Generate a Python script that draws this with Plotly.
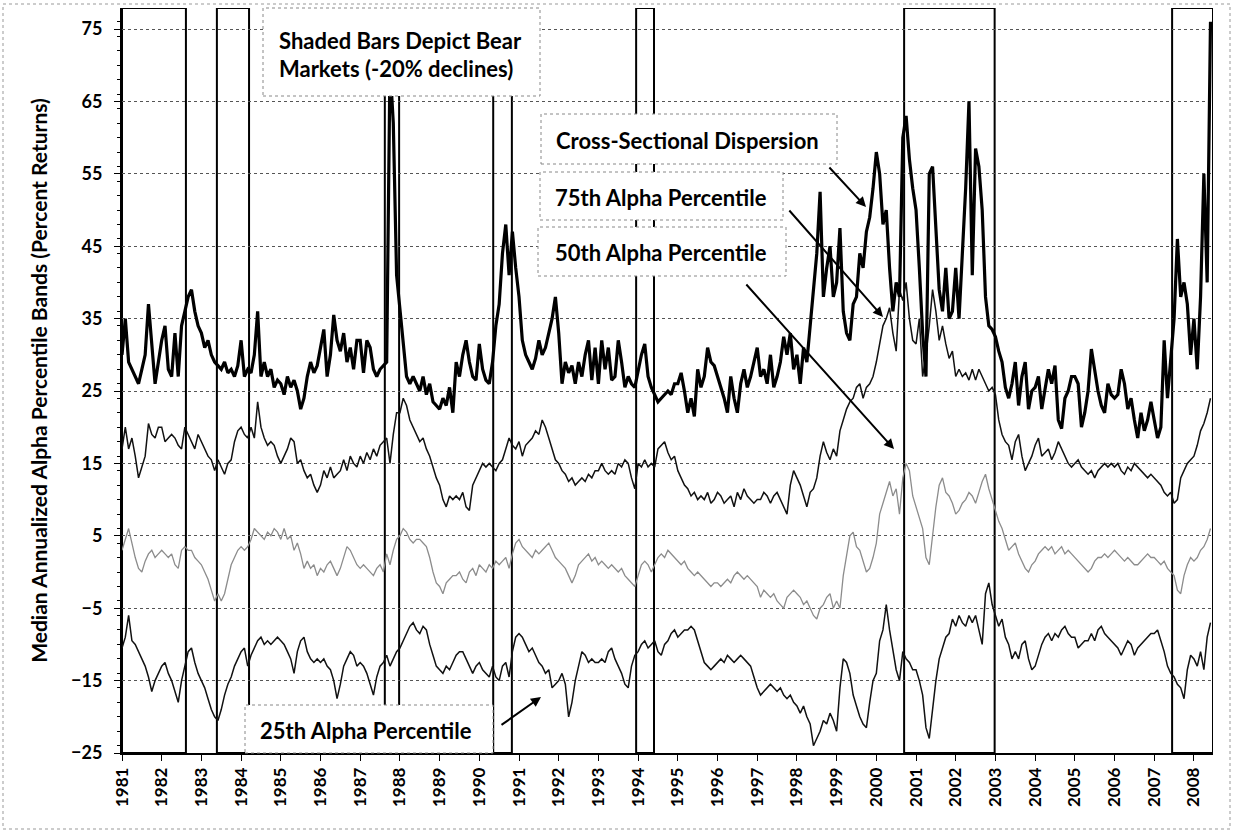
import plotly.graph_objects as go

start_year = 1981
year_labels = [str(y) for y in range(1981, 2009)]

dispersion = [
    30, 35, 29, 28, 27, 26, 28, 30, 37, 31, 26, 29,
    32, 34, 28, 27, 33, 27, 34, 36, 38, 39, 36, 34,
    33, 31, 32, 30, 29, 28.5, 28, 29, 27.5, 28, 27, 28.5,
    32, 27, 28, 27.5, 30, 36, 27, 29, 27, 28, 25.5, 26.5,
    26, 24.5, 27, 25.5, 26.5, 25, 22.5, 24, 27, 29, 27.5, 28.5,
    31, 33.5, 27, 30, 35.5, 32, 30.5, 33, 29, 31, 28, 32,
    32, 27.5, 32, 31, 28, 27, 28, 28.5, 29, 70, 62, 41,
    36, 31, 27, 26, 27, 26, 25, 27, 24.5, 26, 23.5, 23,
    22.5, 24, 23, 25.5, 22, 29, 27, 30, 32, 29, 27, 26.5,
    31.5, 28, 26.5, 26, 29, 34, 37, 44, 48, 41, 47, 42,
    38, 32, 30, 29, 28, 29.5, 32, 30, 31, 33, 35, 38,
    33, 26, 29, 27.5, 28.5, 26, 29, 27, 30, 32, 26.5, 31,
    26, 32, 28, 31, 26.5, 27, 32, 29, 25.5, 27, 26, 25.5,
    28, 30, 31.5, 27, 25.5, 24.5, 23.5, 24, 24.5, 25, 24.5, 26,
    26, 27.5, 25, 22, 24, 21.5, 28, 25.5, 27, 31, 29, 28.5,
    27, 25.5, 24, 22, 27, 24, 22, 26, 28, 25.5, 27, 29,
    31, 27, 28, 26, 30, 25.5, 27, 29, 32.5, 30, 33, 28,
    30, 26, 31, 29, 34, 40, 44, 52.5, 38, 42, 45, 38,
    40, 47.5, 36, 33, 32, 37, 38, 44, 42, 47, 49, 53,
    58, 55, 48, 50, 42, 36, 40, 38, 60, 63, 57, 53,
    50, 42, 33, 27, 55, 56, 47, 39, 36, 42, 35, 36,
    42, 35, 44, 53, 65, 41, 58.5, 56, 50, 38, 34, 33.5,
    32.5, 30.5, 29, 25.5, 24, 26, 29, 23, 27, 29, 22.5, 25,
    25.5, 27, 22.5, 25, 28, 26, 28.5, 21, 19.8, 24, 25, 27,
    27, 26, 20, 22, 25, 30.8, 28, 25, 23, 22, 26, 24.5,
    24, 24.5, 28, 26, 22.5, 24, 21, 18.5, 22, 19.5, 21, 23.5,
    21, 18.5, 20, 32, 24, 29, 35, 46, 38, 40, 37, 30,
    35, 28, 38, 55, 40, 76,
]

p75 = [
    17, 20, 17, 18.5, 16, 13, 14.5, 16, 20.5, 19, 18.5, 20,
    20, 18, 18.5, 19, 18.5, 17.5, 17, 20, 19, 18, 17, 19,
    18, 17, 16, 15.5, 14, 15.5, 14.5, 13.5, 15, 15.5, 18, 19.5,
    20, 19, 18.5, 20, 18.5, 23.5, 20, 18.5, 17.5, 18, 17.5, 16,
    15, 16, 17, 18.5, 18, 15, 15.5, 14, 13, 13.5, 12, 11,
    12, 14, 13, 14.5, 13, 13.5, 14, 15.5, 14, 16, 15, 14.5,
    16, 15, 16.5, 15.5, 17, 16, 17.5, 18, 18.5, 15, 19, 22,
    22, 24, 23, 21, 20, 19, 18, 18.5, 17, 16, 14.5, 13,
    12, 10, 9, 10.5, 10, 10.5, 10, 11, 9, 8.5, 12, 13,
    14, 15, 14.5, 15, 14.5, 14, 15, 15.5, 17, 18.5, 17.5, 17,
    18, 16, 17.5, 18, 18.5, 19.5, 19, 21, 20, 18.5, 17, 15.5,
    15, 14, 13.5, 12.5, 13, 12, 12.5, 13, 12.5, 13.5, 13, 14,
    14, 15, 14, 13.5, 14, 13.5, 15, 14.5, 15.5, 15, 13, 11.5,
    15, 14.5, 15.5, 14.5, 15, 14.5, 17, 17.5, 18, 16.5, 15.5, 16,
    14, 13, 12, 11.5, 10.5, 11, 10, 10.5, 10, 11, 9.5, 10,
    11, 10.5, 9.5, 10, 10.5, 9, 11, 10, 11.5, 10.5, 10, 9.5,
    10, 10, 11, 10.5, 9.5, 10.5, 11, 10, 9, 8, 12, 14,
    13, 12, 10.5, 9, 11, 11.5, 13, 16, 18, 16.5, 15.5, 17,
    16, 19.5, 21, 22.5, 23.5, 24, 25.5, 26, 24, 25.5, 26, 27,
    29, 31.5, 34, 35, 36.5, 33, 30.5, 39, 37.5, 40, 35, 32,
    31.5, 35, 27, 30, 34, 39, 36, 32, 34, 31.5, 29.5, 30.5,
    27, 28, 27, 27.5, 26.5, 28, 26.5, 28, 27, 26, 25, 25.5,
    24.5, 21, 19, 18, 17.5, 15.5, 18, 19, 16, 14, 15, 16,
    17.5, 18.5, 16, 16.5, 17, 15.5, 16.5, 18, 17, 16, 15, 14.5,
    15, 15.5, 14.5, 14, 13.5, 14, 13, 14, 14.5, 15, 14.5, 15,
    14.5, 15, 14, 13.5, 14.5, 14, 15, 14.5, 14, 13.5, 13, 13.5,
    13, 12.5, 12, 11, 10.5, 11, 9.5, 10, 13, 14, 15, 15.5,
    16, 17.5, 19.5, 20.5, 22, 24,
]

p50 = [
    3, 4.5, 6, 4, 2, 0.5, 0, 1.5, 2.5, 3, 2, 2.5,
    3, 2.5, 2, 2.5, 1, 0.5, 3, 3.5, 3, 3, 2, 1.5,
    1, 0, -1, -2.5, -4, -3, -4, -3, -1, 1, 2, 3,
    3.5, 3, 3.5, 4.5, 6, 5.5, 5, 4.5, 5.5, 5, 6, 5.5,
    4.5, 6, 4.5, 5, 3, 4, 2.5, 0.5, 1.5, 0.5, 1, -0.5,
    0.5, 0, 1, 1.5, 0.5, -0.5, 0.5, 2, 3.5, 3, 2, 1,
    0.5, 1, 0.5, 0, -0.5, 0.5, 1, 0, 2.5, 1, 3, 4.5,
    5, 6, 5.5, 4.5, 4, 4.5, 4.5, 4, 3.5, 2, 0, -1.5,
    -2, -3, -1.5, -1, -0.5, -0.5, 0, -1, -1.5, 0, 0.5, -0.5,
    1, 0.5, 0, 1, 0.5, 1.5, 1, 1.5, 2, 0.5, 2.5, 4,
    4.5, 3.5, 3, 2.5, 2, 3, 2.5, 3, 3.5, 4, 3, 2,
    1.5, 1, 0.5, -0.5, -1.5, -0.5, 1, 1.5, 2, 2.5, 1.5, 2,
    1, 1.5, 1, 0.5, 1, 0.5, 0, 0.5, -0.5, -1, -1.5, -2,
    -0.5, 1, 1.5, 1, 0, 1, 2, 2.5, 2, 3, 2.5, 2,
    1.5, 1, 1.5, 0.5, 0, -0.5, 0, -0.5, -1, -1.5, -2, -1.5,
    -1.5, -2, -1.5, -1, -1.5, -0.5, 0, -0.5, -1, -0.5, -1, -1.5,
    -2, -3.5, -2.5, -3, -3.5, -3, -4, -4.5, -5, -3.5, -3, -2.5,
    -3, -3.5, -4.5, -4, -5, -6, -6.5, -5, -4.5, -3.5, -3, -5,
    -4, -5, -0.5, 2.5, 5, 5.5, 3.5, 3, 1.5, 0, 0.5, 2,
    4, 8, 9.5, 11, 12.5, 10.5, 11.5, 8, 13, 15, 14, 10.5,
    9, 7.5, 6, 2, 1, 5, 9, 12, 13, 11, 10.5, 9.5,
    8, 8.5, 9.5, 10, 11, 10.5, 9.5, 11, 12.5, 13.5, 11.5, 10,
    8.5, 7, 6, 4.5, 3, 3.5, 4, 2.5, 1.5, 0.5, 0, 1,
    1.5, 2.5, 3, 3.5, 3, 3.5, 2.5, 3, 3.5, 2.5, 3, 2.5,
    2, 1.5, 1, 0.5, 0, 0.5, 1.5, 2, 2, 2.5, 2, 2.5,
    3, 2.5, 2, 1.5, 2, 1.5, 1, 1, 1.5, 2, 2.5, 2,
    2, 1.5, 1, 1.5, 0.5, 0, -0.5, -2.5, -3, -0.5, 1, 2,
    1.5, 2, 3, 3.5, 4.5, 6,
]

p25 = [
    -10.5, -9, -6, -9.5, -10, -11, -12, -13, -14.5, -16.5, -15, -14,
    -13, -12.5, -14, -15, -16.5, -18, -15, -13, -11, -10.5, -12.5, -14,
    -15, -16, -17.5, -19, -20, -20.5, -19, -17, -15.5, -14.5, -13, -12,
    -11, -10.5, -13, -11.5, -10.5, -9.5, -9, -10, -9.5, -10, -9.5, -9,
    -9.5, -10, -11, -12, -14, -11, -9.5, -9, -11, -12, -12.5, -12,
    -12.5, -12, -13, -13.5, -15, -17.5, -15.5, -13, -12, -11, -11.5, -13,
    -12.5, -13, -14, -15.5, -17, -14.5, -13, -12.5, -11.5, -13, -12, -11,
    -10.5, -9.5, -8.5, -7.5, -7, -8, -8.5, -7.5, -8, -10, -11.5, -13,
    -13.5, -14, -13, -13.5, -12.5, -11.5, -11, -11, -12, -13, -14, -13,
    -12.5, -13.5, -14, -14.5, -13, -14.5, -15, -13, -12.5, -14.5, -11, -9,
    -8.5, -9, -10, -11, -10.5, -11.5, -12.5, -13, -14, -13.5, -16, -15.5,
    -15, -14, -15.5, -20, -18, -15, -13, -11, -11.5, -12.5, -12, -12.5,
    -12.5, -12, -12.5, -11, -10.5, -12, -13, -14, -15.5, -16, -13, -11.5,
    -11, -10, -9.5, -10.5, -10, -9.5, -11, -11.5, -10, -9.5, -8.5, -8,
    -9, -8.5, -8, -8, -7.5, -8, -9.5, -11, -12.5, -13, -13.5, -13,
    -12.5, -12, -12.5, -11.5, -12, -12.5, -12, -11.5, -12, -12.5, -13, -14.5,
    -16, -17, -16.5, -16, -15.5, -16, -16.5, -16, -17, -17.5, -17, -18,
    -18.5, -19.5, -18.5, -20, -21, -24, -23, -22, -20.5, -21, -19.5, -20.5,
    -22, -16, -12, -12.5, -14, -17, -18.5, -20, -21, -21.5, -18, -15,
    -14, -9.5, -8, -4.5, -8, -10.5, -13.5, -15, -11, -12, -12.5, -13.5,
    -13.5, -15, -17, -21.5, -23, -19, -15, -12, -10.5, -9, -8.5, -6.5,
    -7.5, -6, -7, -7.5, -6, -7, -6, -8, -10, -3, -1.5, -4.5,
    -6, -7.5, -6.5, -9, -10, -12, -11, -12, -10, -9.5, -12, -13.5,
    -13, -11.5, -10, -9, -8.5, -9.5, -8.5, -9, -8, -7.5, -8.5, -9,
    -9, -10.5, -10, -9.5, -9.5, -8.5, -9.5, -8, -7.5, -8.5, -9, -9.5,
    -10, -10.5, -11.5, -10.5, -9.5, -10, -11.5, -10.5, -10, -9.5, -9, -8.5,
    -8.5, -8, -9.5, -11, -13, -14, -14.5, -15.5, -16, -17.5, -13.5, -11.5,
    -12, -13, -11, -13.5, -9, -7,
]

# bear market periods (decimal years)
bear_start = [1981.0, 1983.39, 1987.62, 1990.35, 1993.95, 2000.70, 2007.45]
bear_end = [1982.61, 1984.20, 1987.98, 1990.82, 1994.40, 2002.98, 2008.48]

x = [start_year + i / 12 for i in range(len(dispersion))]

X_MAX = 2008.48
Y_MIN, Y_MAX = -25, 77.9

fig = go.Figure()
fig.add_trace(go.Scatter(x=x, y=p50, mode="lines", line=dict(color="#8c8c8c", width=1.3), name="50th"))
fig.add_trace(go.Scatter(x=x, y=p25, mode="lines", line=dict(color="#111111", width=1.5), name="25th"))
fig.add_trace(go.Scatter(x=x, y=p75, mode="lines", line=dict(color="#111111", width=1.5), name="75th"))
fig.add_trace(go.Scatter(x=x, y=dispersion, mode="lines", line=dict(color="#000000", width=3.2), name="Dispersion"))

shapes = []
for s, e in zip(bear_start, bear_end):
    shapes.append(dict(type="rect", xref="x", yref="y", x0=s, x1=e, y0=Y_MIN, y1=Y_MAX,
                       line=dict(color="black", width=2), fillcolor="rgba(0,0,0,0)", layer="below"))

# pixel helpers for layout decorations
L, R, T, B = 122, 1213, 8, 753
def px(v):
    return (v - L) / (R - L)
def py(v):
    return (B - v) / (B - T)

boxes = [
    (263, 8, 540, 96),
    (541, 114, 837, 164),
    (540, 172, 783, 220),
    (538, 227, 786, 276),
    (245, 705, 493, 753),
]
for (x0, y0, x1, y1) in boxes:
    shapes.append(dict(type="rect", xref="paper", yref="paper", x0=px(x0), x1=px(x1), y0=py(y1), y1=py(y0),
                       line=dict(color="#888888", width=1, dash="dot"), fillcolor="white", layer="above"))

# outer border
shapes.append(dict(type="rect", xref="paper", yref="paper", x0=px(3), x1=px(1230), y0=py(829), y1=py(4),
                   line=dict(color="#999999", width=1, dash="dot"), fillcolor="rgba(0,0,0,0)", layer="below"))

lab_font = dict(family="Lato", size=22, color="black", weight="bold")
texts = [
    ("Shaded Bars Depict Bear", 277, 40),
    ("Markets (-20% declines)", 277, 69),
    ("Cross-Sectional Dispersion", 554, 140),
    ("75th Alpha Percentile", 553, 197),
    ("50th Alpha Percentile", 553, 252),
    ("25th Alpha Percentile", 258, 730),
]
annotations = []
for t, ax_, ay_ in texts:
    annotations.append(dict(text=t, xref="paper", yref="paper", x=px(ax_), y=py(ay_), xanchor="left",
                            yanchor="middle", showarrow=False, font=lab_font))

arrows = [
    ((828, 166), (866, 207)),
    ((788, 209), (883, 317)),
    ((745, 283), (894, 449)),
    ((500, 726), (541, 697)),
]
for (tx, ty), (hx, hy) in arrows:
    annotations.append(dict(text="", xref="paper", yref="paper", x=px(hx), y=py(hy), ax=tx - hx, ay=ty - hy,
                            showarrow=True, arrowhead=2, arrowsize=1, arrowwidth=2, arrowcolor="black",
                            standoff=0, startstandoff=0))

fig.update_layout(
    width=1233, height=832,
    margin=dict(l=L, r=1233 - R, t=T, b=832 - B),
    paper_bgcolor="white", plot_bgcolor="white",
    showlegend=False,
    font=dict(family="Lato", color="black"),
    shapes=shapes, annotations=annotations,
    xaxis=dict(
        range=[start_year, X_MAX],
        tickmode="array", tickvals=list(range(1981, 2009)), ticktext=year_labels,
        tickangle=-90, tickfont=dict(family="Lato", size=17, weight="bold", color="black"),
        showgrid=False, zeroline=False, showline=True, linecolor="black", linewidth=1.5,
        ticks="outside", ticklen=6, tickcolor="black", tickwidth=1,
    ),
    yaxis=dict(
        range=[Y_MIN, Y_MAX],
        tickmode="array", tickvals=list(range(-25, 76, 10)),
        tickfont=dict(family="Lato", size=18, weight="bold", color="black"),
        showgrid=True, gridcolor="#555555", griddash="dot", gridwidth=1,
        zeroline=False, showline=True, linecolor="black", linewidth=2,
        ticks="outside", ticklen=6, tickcolor="black", ticklabelstandoff=8,
        minor=dict(dtick=2, ticks="outside", ticklen=3, tickcolor="black", showgrid=False),
        title=dict(text="Median Annualized Alpha Percentile Bands (Percent Returns)",
                   font=dict(family="Lato", size=21, weight="bold", color="black"), standoff=18),
    ),
)

fig.write_html("out.html")
